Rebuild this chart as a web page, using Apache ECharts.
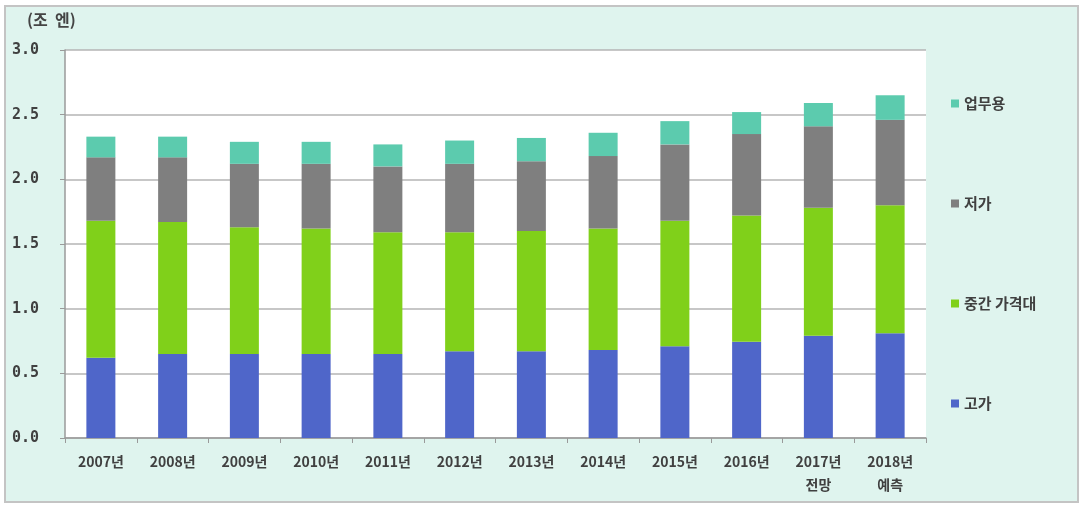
<!DOCTYPE html>
<html>
<head>
<meta charset="utf-8">
<script src="https://cdn.jsdelivr.net/npm/echarts@6/dist/echarts.min.js"></script>
<style>
  html, body { margin: 0; padding: 0; background: #ffffff; }
  .frame {
    position: absolute;
    left: 4px;
    top: 5px;
    width: 1071px;
    height: 494px;
    border: 2px solid #c4c4c4;
    background: #dff4ee;
  }
  #chart { position: absolute; left: 0; top: 0; width: 1081px; height: 505px; }
</style>
</head>
<body>
<div class="frame"></div>
<div id="chart"></div>
<script>
// 연도
const categories = ["2007년", "2008년", "2009년", "2010년", "2011년", "2012년",
  "2013년", "2014년", "2015년", "2016년", "2017년\n전망", "2018년\n예측"];
// 단위: 조 엔 (각 구간의 크기)
const highPrice = [0.62, 0.65, 0.65, 0.65, 0.65, 0.67, 0.67, 0.68, 0.71, 0.745, 0.79, 0.81];
const midPrice = [1.06, 1.02, 0.98, 0.97, 0.94, 0.92, 0.93, 0.94, 0.97, 0.975, 0.99, 0.99];
const lowPrice = [0.49, 0.50, 0.49, 0.50, 0.51, 0.53, 0.54, 0.56, 0.59, 0.63, 0.63, 0.66];
const business = [0.16, 0.16, 0.17, 0.17, 0.17, 0.18, 0.18, 0.18, 0.18, 0.17, 0.18, 0.19];
const legendOrder = ["업무용", "저가", "중간 가격대", "고가"];

const labelFont = "'Noto Sans CJK KR', 'DejaVu Sans', sans-serif";

const chart = echarts.init(document.getElementById("chart"));

function barSeries(name, data, color) {
  return {
    name: name,
    type: "bar",
    stack: "total",
    barWidth: 29,
    data: data,
    itemStyle: { color: color },
    emphasis: { disabled: true },
  };
}

chart.setOption({
  animation: false,
  backgroundColor: "transparent",
  title: {
    text: "(조  엔)",
    left: 22,
    top: 7,
    textStyle: { fontSize: 16, fontWeight: "bold", color: "#444", fontFamily: labelFont },
  },
  grid: {
    left: 65,
    right: 155,
    top: 50,
    bottom: 67,
    show: true,
    backgroundColor: "#ffffff",
    borderWidth: 0,
  },
  legend: {
    data: legendOrder,
    orient: "vertical",
    left: 946,
    top: 91,
    itemGap: 85,
    itemWidth: 8,
    itemHeight: 8,
    icon: "rect",
    textStyle: { fontSize: 15, fontWeight: "bold", color: "#404040", fontFamily: labelFont },
  },
  xAxis: {
    type: "category",
    data: categories,
    axisLine: { lineStyle: { color: "#9a9a9a", width: 1.5 } },
    axisTick: { show: true, length: 5, lineStyle: { color: "#9a9a9a" } },
    axisLabel: {
      fontSize: 14,
      fontWeight: "bold",
      color: "#404040",
      margin: 12,
      lineHeight: 23,
      fontFamily: labelFont,
    },
  },
  yAxis: {
    type: "value",
    min: 0,
    max: 3,
    interval: 0.5,
    axisLine: { show: true, lineStyle: { color: "#9a9a9a", width: 1.5 } },
    axisTick: { show: true, length: 5, lineStyle: { color: "#9a9a9a" } },
    axisLabel: {
      fontSize: 15,
      fontWeight: "bold",
      color: "#404040",
      margin: 26,
      fontFamily: "'DejaVu Sans Mono', monospace",
      formatter: (v) => v.toFixed(1),
    },
    splitLine: { lineStyle: { color: "#b4b4b4", width: 1.5 } },
  },
  series: [
    barSeries("고가", highPrice, "#4f66c9"),
    barSeries("중간 가격대", midPrice, "#80d01a"),
    barSeries("저가", lowPrice, "#7f7f7f"),
    barSeries("업무용", business, "#5ccbae"),
  ],
});
</script>
</body>
</html>
